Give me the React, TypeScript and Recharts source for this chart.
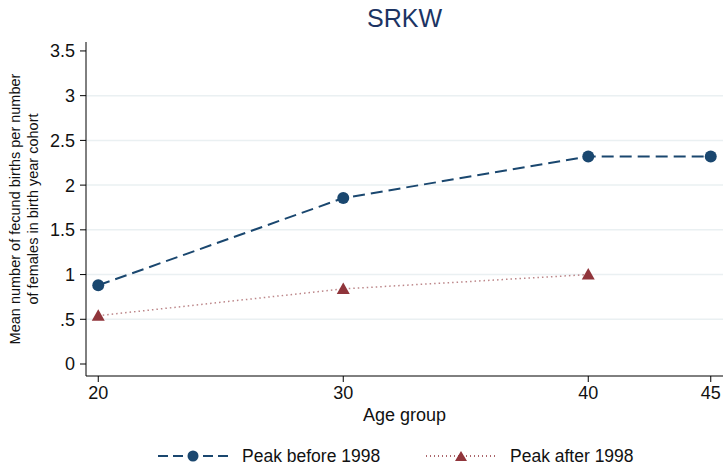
import React from 'react';
import { LineChart, Line, XAxis, YAxis, ReferenceLine } from 'recharts';

const ageGroups = [20, 30, 40, 45];
const peakBefore = [0.88, 1.855, 2.32, 2.32];
const peakAfter: (number | null)[] = [0.54, 0.84, 1.0, null];

const xTicks = [20, 30, 40, 45];
const yTicks = [0, 0.5, 1, 1.5, 2, 2.5, 3, 3.5];
const yTickLabels = ['0', '.5', '1', '1.5', '2', '2.5', '3', '3.5'];
const gridValues = [0.5, 1, 1.5, 2, 2.5, 3];

const seriesNames = ['Peak before 1998', 'Peak after 1998'];

const NAVY = '#1a476f';
const MAROON = '#90353b';
const FONT = '"Liberation Sans", Arial, Helvetica, sans-serif';

const data = ageGroups.map((age, i) => ({
  age,
  before: peakBefore[i],
  after: peakAfter[i],
}));

const CircleDot = (props: any) => {
  const { cx, cy, value } = props;
  if (value == null || cx == null) return null;
  return <circle cx={cx} cy={cy} r={6} fill={NAVY} />;
};

const TriangleDot = (props: any) => {
  const { cx, cy, value } = props;
  if (value == null || cx == null) return null;
  return (
    <polygon
      points={`${cx - 6.5},${cy + 5} ${cx + 6.5},${cy + 5} ${cx},${cy - 6.5}`}
      fill={MAROON}
    />
  );
};

const YTitle = (props: any) => {
  const { viewBox } = props;
  const cy = viewBox.y + viewBox.height / 2;
  return (
    <g fontFamily={FONT} fontSize={14.5} fill="#111">
      <text x={20} y={cy} transform={`rotate(-90, 20, ${cy})`} textAnchor="middle">
        Mean number of fecund births per number
      </text>
      <text x={38} y={cy} transform={`rotate(-90, 38, ${cy})`} textAnchor="middle">
        of females in birth year cohort
      </text>
    </g>
  );
};

const LegendItem = ({ label, color, dash, marker }: any) => (
  <div style={{ display: 'flex', alignItems: 'center', height: 18 }}>
    <svg width={72} height={16} style={{ marginRight: 12 }}>
      <line x1={0} y1={8} x2={72} y2={8} stroke={color} strokeWidth={marker === 'circle' ? 2 : 1.5} strokeDasharray={dash} />
      {marker === 'circle' ? (
        <circle cx={35} cy={8} r={5.5} fill={color} />
      ) : (
        <polygon points="29,13 41,13 35,3" fill={color} />
      )}
    </svg>
    <span>{label}</span>
  </div>
);

export default function App() {
  return (
    <div style={{ position: 'absolute', left: 0, top: 0, width: 724, height: 465, background: '#fff', overflow: 'hidden' }}>
      <div
        style={{
          position: 'absolute',
          top: 4,
          left: 86,
          width: 637,
          textAlign: 'center',
          fontFamily: FONT,
          fontSize: 25,
          color: '#1c3463',
        }}
      >
        SRKW
      </div>
      <LineChart
        width={724}
        height={465}
        data={data}
        margin={{ top: 42, right: 1, bottom: 39, left: 0 }}
      >
        {gridValues.map((v) => (
          <ReferenceLine key={v} y={v} stroke="#eaf0f2" strokeWidth={1.5} />
        ))}
        <XAxis
          dataKey="age"
          type="number"
          domain={[19.5, 45.5]}
          ticks={xTicks}
          height={50}
          stroke="#000"
          tickSize={6}
          tick={{ fontSize: 18, fontFamily: FONT, fill: '#111', dy: 2 }}
          tickLine={{ stroke: '#000' }}
          label={{ value: 'Age group', position: 'insideBottom', offset: 5, fontSize: 18, fontFamily: FONT, fill: '#111' }}
        />
        <YAxis
          type="number"
          domain={[-0.134, 3.6]}
          ticks={yTicks}
          width={86}
          stroke="#000"
          tickSize={6}
          tickFormatter={(v: number) => yTickLabels[yTicks.indexOf(v)] ?? String(v)}
          tick={{ fontSize: 18, fontFamily: FONT, fill: '#111', dx: -3 }}
          label={{ content: YTitle }}
        />
        <Line
          dataKey="before"
          name={seriesNames[0]}
          stroke={NAVY}
          strokeWidth={2}
          strokeDasharray="12 6"
          dot={<CircleDot />}
          activeDot={false}
          isAnimationActive={false}
          type="linear"
        />
        <Line
          dataKey="after"
          name={seriesNames[1]}
          stroke={MAROON}
          strokeOpacity={0.6}
          strokeWidth={1.5}
          strokeDasharray="1.5 3"
          dot={<TriangleDot />}
          activeDot={false}
          isAnimationActive={false}
          type="linear"
        />
      </LineChart>
      <div
        style={{
          position: 'absolute',
          top: 447,
          left: 158,
          display: 'flex',
          fontFamily: FONT,
          fontSize: 17.5,
          color: '#111',
          lineHeight: '18px',
        }}
      >
        <div style={{ width: 268 }}>
          <LegendItem label={seriesNames[0]} color={NAVY} dash="10 5" marker="circle" />
        </div>
        <LegendItem label={seriesNames[1]} color={MAROON} dash="1 3" marker="triangle" />
      </div>
    </div>
  );
}
